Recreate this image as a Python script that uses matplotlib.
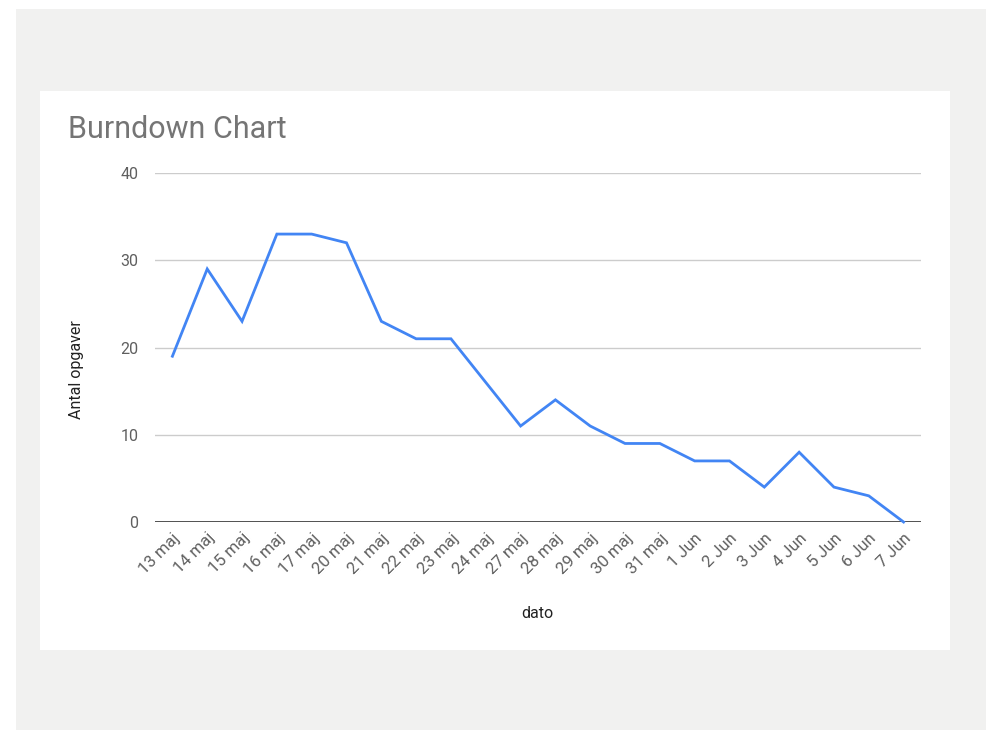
import matplotlib
matplotlib.use("Agg")
import matplotlib.pyplot as plt
from matplotlib.patches import Rectangle

plt.rcParams['font.family'] = ['Roboto', 'DejaVu Sans']

datoer = ["13 maj", "14 maj", "15 maj", "16 maj", "17 maj", "20 maj", "21 maj",
          "22 maj", "23 maj", "24 maj", "27 maj", "28 maj", "29 maj", "30 maj",
          "31 maj", "1 Jun", "2 Jun", "3 Jun", "4 Jun", "5 Jun", "6 Jun", "7 Jun"]
opgaver = [19, 29, 23, 33, 33, 32, 23, 21, 21, 16, 11, 14, 11, 9, 9, 7, 7, 4, 8, 4, 3, 0]
y_ticks = [0, 10, 20, 30, 40]

W, H = 986, 730
fig = plt.figure(figsize=(W / 100, H / 100), dpi=100)
fig.patch.set_facecolor('white')

# grey page and white card, behind the axes
fig.patches.append(Rectangle((16 / W, 0), 1 - 16 / W, 1 - 9 / H, transform=fig.transFigure,
                             facecolor='#f1f1f0', edgecolor='none', zorder=-2))
fig.patches.append(Rectangle((40 / W, 1 - 650 / H), 910 / W, 559 / H, transform=fig.transFigure,
                             facecolor='white', edgecolor='none', zorder=-1))

left, right = 155, 921
top, bottom = 173, 522
ax = fig.add_axes([left / W, 1 - bottom / H, (right - left) / W, (bottom - top) / H])
ax.set_facecolor('none')

x = list(range(len(datoer)))
ax.plot(x, opgaver, color='#4285f4', linewidth=2.0, solid_joinstyle='miter', zorder=3,
        clip_on=False)

ax.set_xlim(-0.5, len(datoer) - 0.5)
ax.set_ylim(0, 40)
ax.set_yticks(y_ticks)
ax.set_yticklabels([str(v) for v in y_ticks], fontsize=11.5, color='#5f5f5f')
ax.set_xticks(x)
ax.set_xticklabels(datoer, rotation=45, ha='right', rotation_mode='anchor',
                   fontsize=12, color='#5f5f5f')
ax.tick_params(axis='both', length=0)
ax.tick_params(axis='y', pad=12)
ax.tick_params(axis='x', pad=6)

for v in y_ticks[1:]:
    ax.axhline(v, color='#cccccc', linewidth=1, zorder=1)
ax.axhline(0, color='#333333', linewidth=1.2, zorder=2)

for s in ax.spines.values():
    s.set_visible(False)

fig.text(68 / W, 1 - 130 / H, "Burndown Chart", fontsize=22, color='#757575',
         va='center', ha='left')
fig.text(77 / W, 1 - 370 / H, "Antal opgaver", fontsize=11.5, color='#222222',
         rotation=90, va='center', ha='center')
fig.text(537 / W, 1 - 614 / H, "dato", fontsize=11.5, color='#222222',
         va='center', ha='center')

plt.savefig('out.png', dpi=100)
plt.close()
